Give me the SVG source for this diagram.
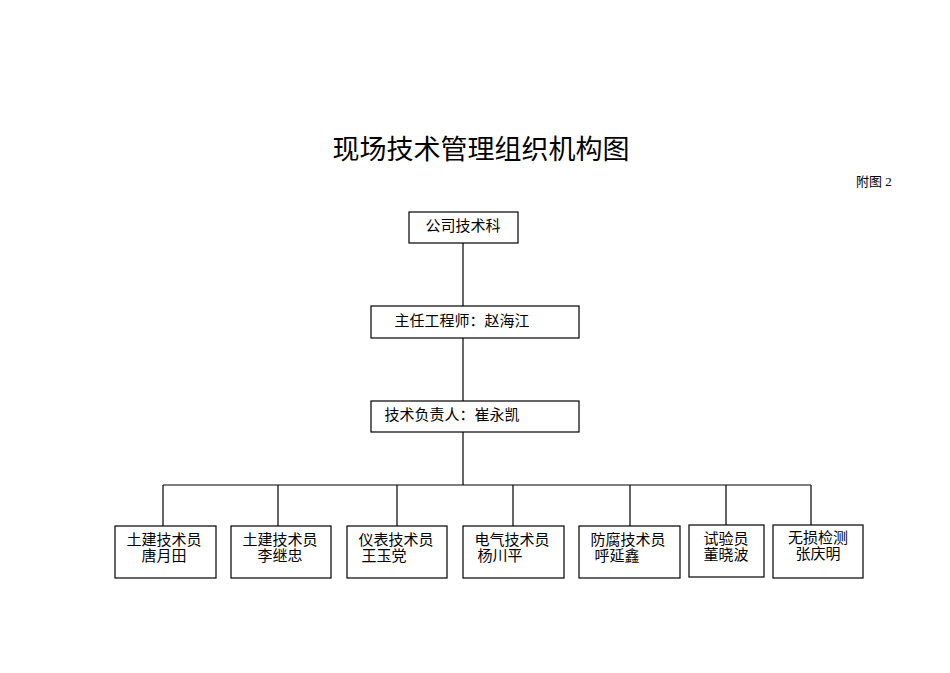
<svg xmlns="http://www.w3.org/2000/svg" width="950" height="673" viewBox="0 0 950 673">
<style>
rect{fill:#fff;stroke:#000;stroke-width:1.2}
line{stroke:#000;stroke-width:1.2}
text{font-family:"Liberation Serif","Noto Sans CJK SC",serif;font-size:15px;fill:#000;text-anchor:middle}
</style>
<rect x="0" y="0" width="950" height="673" style="stroke:none"/>
<text x="481" y="159" style="font-size:27px">现场技术管理组织机构图</text>
<text x="874" y="186" style="font-size:13px">附图 2</text>
<g id="connectors">
<line x1="463" y1="243" x2="463" y2="306"/>
<line x1="463" y1="338" x2="463" y2="401"/>
<line x1="463" y1="432" x2="463" y2="485"/>
<line x1="163" y1="485" x2="811" y2="485"/>
<line x1="163" y1="485" x2="163" y2="526"/>
<line x1="278" y1="485" x2="278" y2="526"/>
<line x1="397" y1="485" x2="397" y2="526"/>
<line x1="513" y1="485" x2="513" y2="526"/>
<line x1="630" y1="485" x2="630" y2="526"/>
<line x1="726" y1="485" x2="726" y2="525"/>
<line x1="811" y1="485" x2="811" y2="525"/>
</g>
<g id="n1"><rect x="409" y="212" width="109" height="31"/><text x="463" y="231">公司技术科</text></g>
<g id="n2"><rect x="371" y="306" width="208" height="32"/><text x="462" y="326">主任工程师：赵海江</text></g>
<g id="n3"><rect x="371" y="401" width="208" height="31"/><text x="452" y="420">技术负责人：崔永凯</text></g>
<g id="b1"><rect x="115" y="526" width="101" height="52"/><text x="164" y="545">土建技术员</text><text x="164" y="561">唐月田</text></g>
<g id="b2"><rect x="231" y="526" width="100" height="52"/><text x="280" y="545">土建技术员</text><text x="280" y="561">李继忠</text></g>
<g id="b3"><rect x="347" y="526" width="100" height="52"/><text x="396" y="545">仪表技术员</text><text x="384" y="561">王玉党</text></g>
<g id="b4"><rect x="463" y="526" width="101" height="52"/><text x="512" y="545">电气技术员</text><text x="500" y="561">杨川平</text></g>
<g id="b5"><rect x="579" y="526" width="101" height="52"/><text x="628" y="545">防腐技术员</text><text x="617" y="561">呼延鑫</text></g>
<g id="b6"><rect x="689" y="525" width="75" height="52"/><text x="726" y="544">试验员</text><text x="726" y="560">董晓波</text></g>
<g id="b7"><rect x="773" y="525" width="90" height="53"/><text x="818" y="543">无损检测</text><text x="818" y="559">张庆明</text></g>
</svg>
